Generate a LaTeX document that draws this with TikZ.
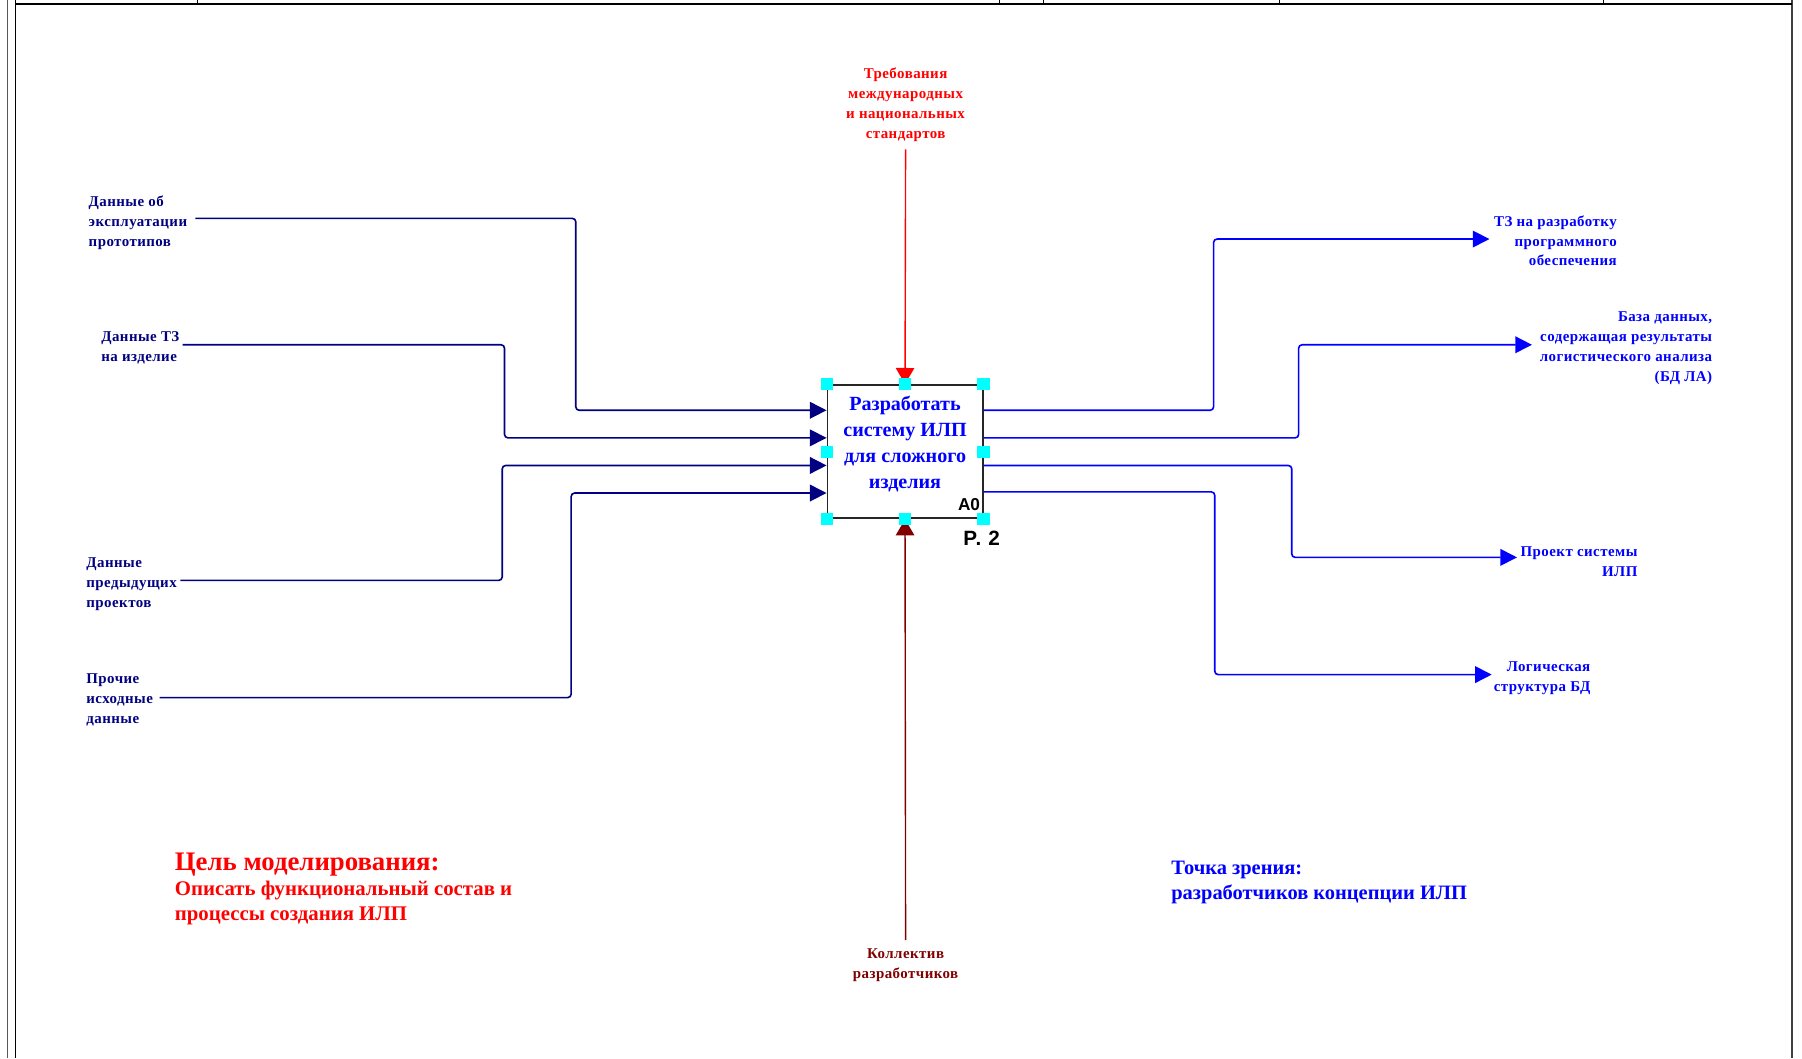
\documentclass[tikz,border=0pt]{standalone}
\usepackage{fontspec}
\setmainfont{Liberation Serif}
\newfontfamily\numfont{Liberation Sans}
\usetikzlibrary{arrows.meta,calc}

\definecolor{inavy}{RGB}{0,0,128}
\definecolor{outblue}{RGB}{0,0,255}
\definecolor{ctrlred}{RGB}{255,0,0}
\definecolor{mechred}{RGB}{128,0,0}
\definecolor{handlecyan}{RGB}{0,255,255}

\tikzset{
  flow/.style={line width=1.4pt, rounded corners=3pt},
  inflow/.style={flow, draw=inavy, -{Triangle[length=14.5pt,width=14.5pt]}},
  outflow/.style={flow, draw=outblue, -{Triangle[length=14.5pt,width=14.5pt]}},
  ctrlflow/.style={line width=1.2pt, draw=ctrlred, -{Triangle[length=14pt,width=16pt]}},
  mechflow/.style={line width=1.2pt, draw=mechred, -{Triangle[length=14pt,width=16pt]}},
  actbox/.style={draw=black!85, line width=1.6pt, minimum width=135pt, minimum height=116pt, inner sep=0pt},
  acttext/.style={text=outblue, align=center, inner sep=0pt,
    font=\bfseries\fontsize{17.5}{22.6}\selectfont},
  hnd/.style={fill=handlecyan, draw=none, minimum size=10.5pt, inner sep=0pt},
  lbl/.style={inner sep=0pt,
    font=\bfseries\fontsize{13}{17.3}\selectfont\addfontfeatures{LetterSpace=3}},
  inlbl/.style={lbl, text=inavy, align=left, anchor=west},
  outlbl/.style={lbl, text=outblue, align=right, anchor=east},
  ctrllbl/.style={lbl, text=ctrlred, align=center},
  mechlbl/.style={lbl, text=mechred, align=center},
  goalhead/.style={inner sep=0pt, anchor=west, text=ctrlred, font=\bfseries\fontsize{23.3}{27}\selectfont},
  goalbody/.style={inner sep=0pt, anchor=west, align=left, text=ctrlred, font=\bfseries\fontsize{18.1}{22}\selectfont},
  viewtxt/.style={inner sep=0pt, anchor=west, align=left, text=outblue, font=\bfseries\fontsize{17.8}{22}\selectfont},
  numlbl/.style={inner sep=0pt, text=black, font=\numfont\bfseries\fontsize{15}{18}\selectfont},
}

\begin{document}
\begin{tikzpicture}[x=1pt,y=-1pt]
\useasboundingbox (0,0) rectangle (1568,921);

% sheet frame
\draw[black!65, line width=1pt] (6.5,0) -- (6.5,921);
\draw[black, line width=1.5pt] (13.5,0) -- (13.5,921);
\draw[black!75, line width=2pt] (1559.5,0) -- (1559.5,921);
\draw[black, line width=1.2pt] (13.5,3.5) -- (1559.5,3.5);
\foreach \x in {172,870,908,1113,1395} \draw[line width=0.8pt] (\x,0) -- (\x,3.5);

% activity box A0
\node[actbox] (A0) at (787.5,393) {};
\node[acttext] (A0txt) at (787.5,386) {Разработать\\систему ИЛП\\для сложного\\изделия};
\node[numlbl, anchor=base east] (A0num) at (853,444) {A0};
\node[numlbl, anchor=base west, font=\numfont\bfseries\fontsize{18}{21}\selectfont\addfontfeatures{LetterSpace=6}] (pg) at (838,475) {P. 2};

% ports on the box
\coordinate (in1) at ($(A0.west)+(0,-36)$);
\coordinate (in2) at ($(A0.west)+(0,-12)$);
\coordinate (in3) at ($(A0.west)+(0,12)$);
\coordinate (in4) at ($(A0.west)+(0,36)$);
\coordinate (out1) at ($(A0.east)+(0,-36)$);
\coordinate (out2) at ($(A0.east)+(0,-12)$);
\coordinate (out3) at ($(A0.east)+(0,12)$);
\coordinate (out4) at ($(A0.east)+(0,35)$);

% inputs
\node[inlbl] (L1) at (77,193.5) {Данные об\\эксплуатации\\прототипов};
\node[inlbl] (L2) at (88,302.5) {Данные ТЗ\\на изделие};
\node[inlbl] (L3) at (75,508.5) {Данные\\предыдущих\\проектов};
\node[inlbl] (L4) at (75,609) {Прочие\\исходные\\данные};
\coordinate (i1s) at (170,190);
\coordinate (i2s) at (159,300);
\coordinate (i3s) at (157,505);
\coordinate (i4s) at (139,607);
\draw[inflow] (i1s) -| (501,357) -- (in1);
\draw[inflow] (i2s) -| (439,381) -- (in2);
\draw[inflow] (i3s) -| (437,405) -- (in3);
\draw[inflow] (i4s) -| (497,429) -- (in4);

% outputs
\coordinate (o1e) at (1296,208);
\coordinate (o2e) at (1333,300);
\coordinate (o3e) at (1320,485);
\coordinate (o4e) at (1298,587);
\draw[outflow] (out1) -| (1056,208) -- (o1e);
\draw[outflow] (out2) -| (1130,300) -- (o2e);
\draw[outflow] (out3) -| (1124,485) -- (o3e);
\draw[outflow] (out4) -| (1057,587) -- (o4e);
\node[outlbl] (R1) at (1407,209.5) {ТЗ на разработку\\программного\\обеспечения};
\node[outlbl] (R2) at (1490,303) {База данных,\\содержащая результаты\\логистического анализа\\(БД ЛА)};
\node[outlbl] (R3) at (1425,488.5) {Проект системы\\ИЛП};
\node[outlbl] (R4) at (1384,590.5) {Логическая\\структура БД};

% control
\node[ctrllbl] (C1) at (788,91) {Требования\\международных\\и национальных\\стандартов};
\coordinate (cs) at (788,130);
\draw[ctrlflow] (cs) -- (A0.north);

% mechanism
\node[mechlbl] (M1) at (788,840) {Коллектив\\разработчиков};
\coordinate (ms) at (788,818);
\draw[mechflow] (ms) -- (A0.south);

% selection handles
\foreach \n/\a in {hnw/north west, hn/north, hne/north east, hw/west, he/east, hsw/south west, hs/south, hse/south east}
  \node[hnd] (\n) at (A0.\a) {};

% purpose and viewpoint
\node[goalhead] (G1) at (152,752) {Цель моделирования:};
\node[goalbody] (G2) at (152,786) {Описать функциональный состав и\\процессы создания ИЛП};
\node[viewtxt] (V1) at (1019,768) {Точка зрения:\\разработчиков концепции ИЛП};
\end{tikzpicture}
\end{document}
